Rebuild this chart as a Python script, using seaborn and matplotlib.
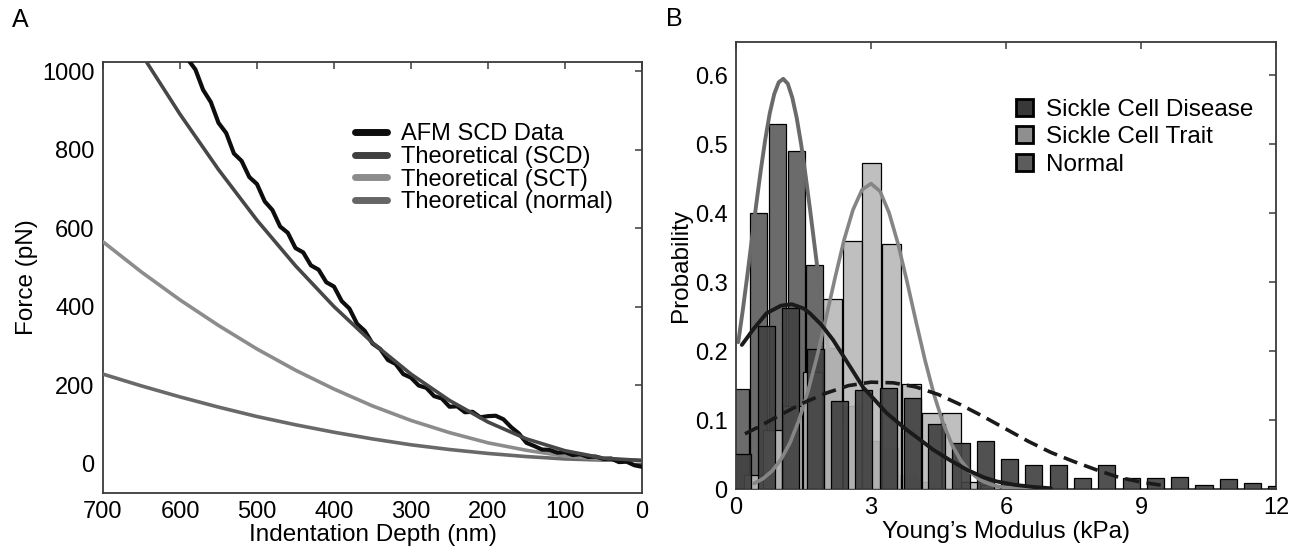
import numpy as np
import pandas as pd
import matplotlib
matplotlib.use("Agg")
import matplotlib.pyplot as plt
import seaborn as sns
from matplotlib.patches import Patch
from matplotlib.lines import Line2D

# ---------------- Panel A data ----------------
afm_depth = list(range(590, -10, -10))
afm_force = [1030, 1004, 952, 921, 868, 842, 790, 771, 730, 712,
             668, 646, 604, 588, 549, 538, 505, 494, 462, 451,
             414, 395, 356, 338, 306, 292, 264, 254, 228, 219,
             199, 193, 172, 166, 145, 146, 131, 132, 118, 121,
             122, 113, 93, 77, 53, 45, 36, 35, 28, 29,
             22, 24, 17, 18, 12, 13, 4, 5, -4, -8]

theo_depth = [700, 650, 600, 550, 500, 450, 400, 350, 300, 250, 200, 150, 100, 50, 0]
theo_scd = [1208, 1043, 890, 749, 620, 504, 400, 308, 228, 161, 106, 63, 33, 14, 8]
theo_sct = [565, 488, 417, 352, 292, 238, 190, 147, 110, 79, 53, 34, 19, 11, 8]
theo_normal = [228, 198, 170, 144, 120, 99, 80, 63, 48, 36, 26, 18, 12, 9, 8]

legend_a = ["AFM SCD Data", "Theoretical (SCD)", "Theoretical (SCT)", "Theoretical (normal)"]

# ---------------- Panel B data ----------------
scd_centers = [0.14, 0.68, 1.22, 1.76, 2.30, 2.84, 3.38, 3.92, 4.46, 5.00, 5.54,
               6.08, 6.62, 7.16, 7.70, 8.24, 8.78, 9.32, 9.86, 10.40, 10.94, 11.48, 12.02]
scd_prob = [0.051, 0.237, 0.262, 0.203, 0.128, 0.144, 0.146, 0.132, 0.094, 0.067, 0.069,
            0.043, 0.035, 0.035, 0.016, 0.035, 0.016, 0.016, 0.018, 0.006, 0.014, 0.009, 0.004]

sct_centers = [0.38, 0.82, 1.26, 1.70, 2.14, 2.58, 3.02, 3.46, 3.90, 4.34, 4.78,
               5.22, 5.66, 6.10, 6.54]
sct_prob = [0.020, 0.085, 0.120, 0.170, 0.276, 0.360, 0.473, 0.356, 0.152, 0.110, 0.110,
            0.010, 0.006, 0.006, 0.004]

nor_centers = [0.09, 0.505, 0.92, 1.335, 1.75, 2.165, 2.58, 2.995, 3.41, 3.825, 4.24]
nor_prob = [0.145, 0.401, 0.529, 0.491, 0.325, 0.205, 0.120, 0.070, 0.060, 0.020, 0.010]

nor_fit_x = [0.05, 0.15, 0.25, 0.35, 0.45, 0.55, 0.65, 0.75, 0.85, 0.95, 1.05, 1.15, 1.25,
             1.35, 1.45, 1.55, 1.65, 1.75, 1.85, 1.95, 2.05, 2.15, 2.25, 2.35, 2.45,
             2.55, 2.65, 2.75, 2.85, 2.95]
nor_fit_y = [0.213, 0.259, 0.309, 0.361, 0.413, 0.462, 0.507, 0.545, 0.573, 0.590, 0.595,
             0.588, 0.568, 0.538, 0.499, 0.453, 0.403, 0.351, 0.299, 0.249, 0.204, 0.163,
             0.128, 0.098, 0.074, 0.054, 0.039, 0.028, 0.019, 0.013]

sct_fit_x = [0.4, 0.6, 0.8, 1.0, 1.2, 1.4, 1.6, 1.8, 2.0, 2.2, 2.4, 2.6, 2.8, 3.0, 3.2, 3.4,
             3.6, 3.8, 4.0, 4.2, 4.4, 4.6, 4.8, 5.0, 5.2, 5.4, 5.6, 5.8, 6.0, 6.5, 7.0]
sct_fit_y = [0.008, 0.015, 0.026, 0.043, 0.067, 0.100, 0.142, 0.192, 0.248, 0.306, 0.361,
             0.405, 0.434, 0.443, 0.432, 0.401, 0.356, 0.301, 0.243, 0.187, 0.137, 0.096,
             0.064, 0.041, 0.025, 0.014, 0.008, 0.004, 0.002, 0.001, 0.0]

scd_fit_x = [0.13, 0.4, 0.68, 1.0, 1.24, 1.5, 1.64, 1.9, 2.16, 2.53, 2.83, 3.1, 3.35, 3.79,
             4.1, 4.38, 4.75, 5.13, 5.5, 5.79, 6.2, 6.6, 7.0]
scd_fit_y = [0.209, 0.233, 0.255, 0.266, 0.268, 0.262, 0.255, 0.238, 0.216, 0.178, 0.147,
             0.128, 0.110, 0.086, 0.071, 0.057, 0.042, 0.028, 0.017, 0.011, 0.006, 0.003, 0.001]

dash_fit_x = [0.2, 0.5, 1.0, 1.5, 2.0, 2.5, 3.0, 3.5, 4.0, 4.5, 5.0, 5.5, 6.0, 6.5, 7.0,
              7.5, 8.0, 8.5, 9.0, 9.5]
dash_fit_y = [0.080, 0.090, 0.108, 0.125, 0.139, 0.150, 0.155, 0.154, 0.148, 0.137, 0.122,
              0.105, 0.087, 0.069, 0.053, 0.040, 0.028, 0.017, 0.010, 0.005]

legend_b = ["Sickle Cell Disease", "Sickle Cell Trait", "Normal"]

# ---------------- Styling ----------------
sns.set_theme(style="white")
plt.rcParams['font.family'] = ['Liberation Sans', 'DejaVu Sans']
plt.rcParams['axes.unicode_minus'] = False
plt.rcParams['text.color'] = 'black'
plt.rcParams['axes.labelcolor'] = 'black'
plt.rcParams['xtick.color'] = 'black'
plt.rcParams['ytick.color'] = 'black'

W, H = 1304, 553
fig = plt.figure(figsize=(W / 100, H / 100), dpi=100)

axA = fig.add_axes([103 / W, 1 - 492.7 / H, (642 - 103) / W, (492.7 - 62) / H])
axB = fig.add_axes([736 / W, 1 - 489 / H, (1276 - 736) / W, (489 - 42.3) / H])

spine_col = "#3a3a3a"
for ax in (axA, axB):
    for s in ax.spines.values():
        s.set_color(spine_col)
        s.set_linewidth(1.3)
    ax.tick_params(direction="in", length=5, width=1.1, color=spine_col,
                   top=True, right=True, labelsize=17, pad=6, labelcolor="black")
    ax.grid(False)

# ---------------- Panel A ----------------
col_afm = "#0d0d0d"
col_scd = "#474747"
col_sct = "#8c8c8c"
col_nor = "#696969"

sns.lineplot(x=theo_depth, y=theo_normal, ax=axA, color=col_nor, lw=2.6, sort=False, zorder=3)
sns.lineplot(x=theo_depth, y=theo_sct, ax=axA, color=col_sct, lw=2.6, sort=False, zorder=3)
sns.lineplot(x=afm_depth, y=afm_force, ax=axA, color=col_afm, lw=3.0, sort=False, zorder=4)
sns.lineplot(x=theo_depth, y=theo_scd, ax=axA, color=col_scd, lw=2.6, sort=False, zorder=5)

axA.set_xlim(700, 0)
axA.set_ylim(-74, 1023)
axA.set_xticks([700, 600, 500, 400, 300, 200, 100, 0])
axA.set_yticks([0, 200, 400, 600, 800, 1000])
axA.set_xlabel("Indentation Depth (nm)", fontsize=17.5, labelpad=1)
axA.set_ylabel("Force (pN)", fontsize=17.5, labelpad=3)

hA = [Line2D([0], [0], color=c, lw=5) for c in (col_afm, "#3f3f3f", col_sct, "#666666")]
axA.legend(hA, legend_a, loc="upper left", bbox_to_anchor=(0.4675, 0.858),
           frameon=False, fontsize=17, handlelength=1.35, handletextpad=0.6,
           labelspacing=0.03, borderaxespad=0, borderpad=0)

# ---------------- Panel B ----------------
bar_col_nor = "#6b6b6b"
bar_col_sct = "#b8b8b8"
bar_col_scd = "#424242"

sns.histplot(x=nor_centers, weights=nor_prob, binwidth=0.415,
             binrange=(nor_centers[0] - 0.2075, nor_centers[-1] + 0.2075),
             shrink=0.91, color=bar_col_nor, edgecolor="black", linewidth=0.9,
             alpha=1.0, ax=axB, zorder=1)
sns.lineplot(x=nor_fit_x, y=nor_fit_y, ax=axB, color="#6a6a6a", lw=2.8, sort=False, zorder=2)
sns.histplot(x=sct_centers, weights=sct_prob, binwidth=0.44,
             binrange=(sct_centers[0] - 0.22, sct_centers[-1] + 0.22),
             shrink=0.96, color=bar_col_sct, edgecolor="black", linewidth=0.9,
             alpha=0.9, ax=axB, zorder=3)
sns.histplot(x=scd_centers, weights=scd_prob, binwidth=0.54,
             binrange=(scd_centers[0] - 0.27, scd_centers[-1] + 0.27),
             shrink=0.7, color=bar_col_scd, edgecolor="black", linewidth=0.9,
             alpha=0.92, ax=axB, zorder=4)
sns.lineplot(x=sct_fit_x, y=sct_fit_y, ax=axB, color="#858585", lw=2.6, sort=False, zorder=5)
sns.lineplot(x=scd_fit_x, y=scd_fit_y, ax=axB, color="#1a1a1a", lw=2.8, sort=False, zorder=6)
sns.lineplot(x=dash_fit_x, y=dash_fit_y, ax=axB, color="#1a1a1a", lw=2.6, sort=False,
             zorder=7, linestyle=(0, (4, 2)))

axB.set_xlim(0, 12)
axB.set_ylim(0, 0.648)
axB.set_xticks([0, 3, 6, 9, 12])
axB.set_yticks([0, 0.1, 0.2, 0.3, 0.4, 0.5, 0.6])
axB.set_yticklabels(["0", "0.1", "0.2", "0.3", "0.4", "0.5", "0.6"])
axB.set_xlabel("Young\u2019s Modulus (kPa)", fontsize=17.5, labelpad=1)
axB.set_ylabel("Probability", fontsize=17.5, labelpad=2)

hB = [Patch(facecolor=c, edgecolor="black", linewidth=2) for c in ("#383838", "#8f8f8f", "#5c5c5c")]
axB.legend(hB, legend_b, loc="upper left", bbox_to_anchor=(0.5185, 0.874),
           frameon=False, fontsize=17.5, handlelength=0.7, handleheight=0.7,
           handletextpad=0.55, labelspacing=0.23, borderaxespad=0, borderpad=0)

fig.text(12 / W, 1 - 8 / H, "A", fontsize=18, ha="left", va="top")
fig.text(666 / W, 1 - 7 / H, "B", fontsize=18, ha="left", va="top")

fig.savefig("out.png", dpi=100)
